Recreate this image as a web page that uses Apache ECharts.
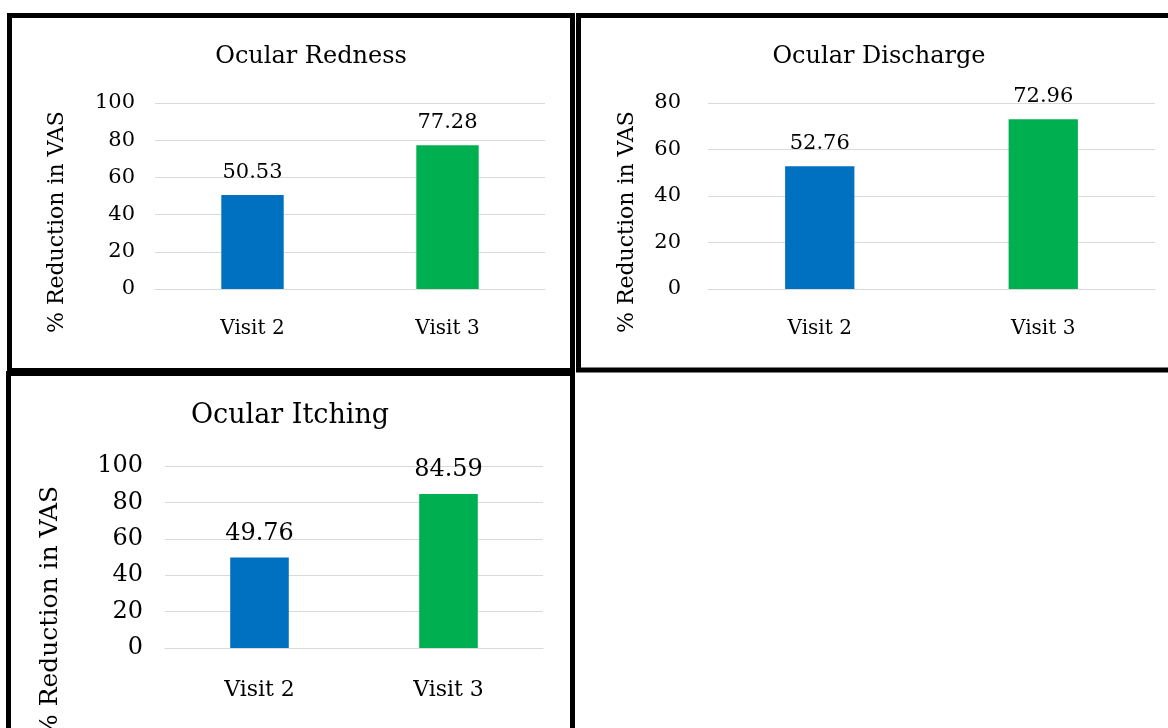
<!DOCTYPE html>
<html>
<head>
<meta charset="utf-8">
<script src="https://cdn.jsdelivr.net/npm/echarts@6/dist/echarts.min.js"></script>
<style>
  html, body { margin: 0; padding: 0; background: #fff; }
  #main { width: 1168px; height: 728px; }
</style>
</head>
<body>
<div id="main"></div>
<script>
// data
var categories = ["Visit 2", "Visit 3"];
var rednessValues = [50.53, 77.28];
var dischargeValues = [52.76, 72.96];
var itchingValues = [49.76, 84.59];
var panelTitles = ["Ocular Redness", "Ocular Discharge", "Ocular Itching"];
var yAxisMax = [100, 80, 100];
var yAxisTitle = "% Reduction in VAS";
var barColors = ["#0070C0", "#00B050"];

var FONT = "DejaVu Serif";
var GRID_COLOR = "#d9d9d9";

// one entry per panel: plot area, fonts
var panels = [
  { values: rednessValues, grid: { left: 155, top: 103, width: 390, height: 186 },
    titleX: 311, titleY: 45, titleSize: 24, tickSize: 21, catSize: 20, labelSize: 21,
    nameX: 57, nameY: 222, nameSize: 22, barWidth: "32%", tickMargin: 20, catMargin: 30 },
  { values: dischargeValues, grid: { left: 708, top: 103, width: 447, height: 186 },
    titleX: 879, titleY: 45, titleSize: 24, tickSize: 21, catSize: 20, labelSize: 21,
    nameX: 627, nameY: 222, nameSize: 22, barWidth: "31%", tickMargin: 27, catMargin: 30 },
  { values: itchingValues, grid: { left: 165, top: 466, width: 378, height: 182 },
    titleX: 290, titleY: 402, titleSize: 27, tickSize: 24, catSize: 22, labelSize: 24,
    nameX: 50, nameY: 612, nameSize: 25, barWidth: "31%", tickMargin: 22, catMargin: 31 }
];

var myChart = echarts.init(document.getElementById("main"));

var option = {
  backgroundColor: "#fff",
  animation: false,
  title: [],
  grid: [],
  xAxis: [],
  yAxis: [],
  series: [],
  graphic: [
    // panel frames
    { type: "rect", shape: { x: 9.5, y: 15.5, width: 563, height: 355 },
      style: { fill: "none", stroke: "#000", lineWidth: 5 } },
    { type: "rect", shape: { x: 578.5, y: 15.5, width: 620, height: 354.5 },
      style: { fill: "none", stroke: "#000", lineWidth: 5 } },
    { type: "rect", shape: { x: 8.5, y: 373.5, width: 564, height: 400 },
      style: { fill: "none", stroke: "#000", lineWidth: 5 } }
  ]
};

panels.forEach(function (p, i) {
  option.title.push({
    text: panelTitles[i],
    left: p.titleX,
    top: p.titleY,
    textAlign: "center",
    padding: 0,
    textStyle: { fontFamily: FONT, fontWeight: "normal", fontSize: p.titleSize, color: "#000" }
  });
  option.grid.push(p.grid);
  option.xAxis.push({
    type: "category",
    gridIndex: i,
    data: categories,
    axisLine: { lineStyle: { color: GRID_COLOR } },
    axisTick: { show: false },
    axisLabel: { fontFamily: FONT, fontSize: p.catSize, color: "#000", margin: p.catMargin }
  });
  option.yAxis.push({
    type: "value",
    gridIndex: i,
    min: 0,
    max: yAxisMax[i],
    interval: 20,
    axisLine: { show: false },
    axisTick: { show: false },
    splitLine: { lineStyle: { color: GRID_COLOR, width: 1 } },
    axisLabel: { fontFamily: FONT, fontSize: p.tickSize, color: "#000", margin: p.tickMargin }
  });
  option.series.push({
    type: "bar",
    xAxisIndex: i,
    yAxisIndex: i,
    barWidth: p.barWidth,
    data: p.values.map(function (v, j) {
      return { value: v, itemStyle: { color: barColors[j] } };
    }),
    label: {
      show: true,
      position: "top",
      distance: 12,
      fontFamily: FONT,
      fontSize: p.labelSize,
      color: "#000",
      formatter: function (d) { return d.value.toFixed(2); }
    }
  });
  option.graphic.push({
    type: "text",
    x: p.nameX,
    y: p.nameY,
    rotation: Math.PI / 2,
    style: {
      text: yAxisTitle,
      fontFamily: FONT,
      fontSize: p.nameSize,
      fill: "#000",
      textAlign: "center",
      textVerticalAlign: "middle"
    }
  });
});

myChart.setOption(option);
</script>
</body>
</html>
